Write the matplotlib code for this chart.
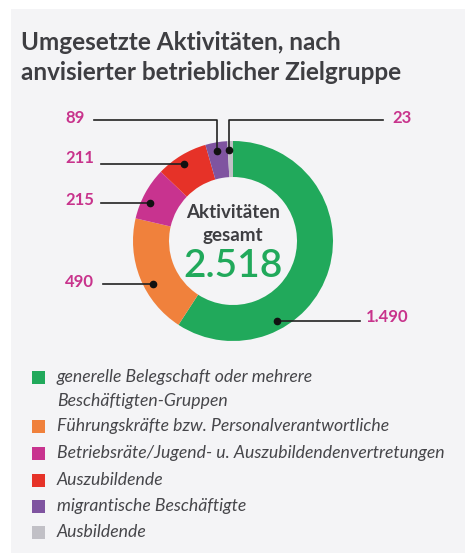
import numpy as np
import matplotlib.pyplot as plt
from matplotlib.patches import Rectangle

# data
groups = ['generelle Belegschaft oder mehrere\nBeschäftigten-Gruppen',
          'Führungskräfte bzw. Personalverantwortliche',
          'Betriebsräte/Jugend- u. Auszubildendenvertretungen',
          'Auszubildende',
          'migrantische Beschäftigte',
          'Ausbildende']
counts = [1490, 490, 215, 211, 89, 23]
value_labels = ['1.490', '490', '215', '211', '89', '23']
colors = ['#21a95b', '#f0813c', '#c8338f', '#e63228', '#7f54a0', '#c1c0c6']
total_label = '2.518'

W, H = 471, 553
FONT = 'Lato'
dark = '#3e3e42'
pink = '#c8338c'

fig = plt.figure(figsize=(W / 100, H / 100), dpi=100, facecolor='white')

def fx(x):
    return x / W

def fy(y):
    return 1 - y / H

# grey panel (behind the axes)
fig.patches.append(Rectangle((fx(11), 0), fx(465) - fx(11), fy(9), transform=fig.transFigure,
                             facecolor='#f4f4f6', edgecolor='none', zorder=-5))

fig.text(fx(21), fy(43), 'Umgesetzte Aktivitäten, nach', fontsize=17.5, fontweight='bold',
         color=dark, family=FONT, va='center', ha='left')
fig.text(fx(21), fy(72), 'anvisierter betrieblicher Zielgruppe', fontsize=17.5, fontweight='bold',
         color=dark, family=FONT, va='center', ha='left')

# donut: centre (233, 241) px, radius 100 px -> 1 data unit = 100 px
cx, cy, R = 233, 241, 100
ax = fig.add_axes([fx(cx - R), fy(cy + R), 2 * R / W, 2 * R / H])
ax.pie(counts, colors=colors, startangle=90, counterclock=False, radius=1,
       wedgeprops=dict(width=0.36, linewidth=0))
ax.set_xlim(-1, 1)
ax.set_ylim(-1, 1)
ax.axis('off')

def to_data(x, y):
    return (x - cx) / R, (cy - y) / R

# label layout: (fraction within wedge, label x px, label y px, line end x px, elbow y px or None)
layout = [
    (0.71, 366, 317, 360, None),
    (0.41, 65, 282, 103, None),
    (0.37, 65, 200, 101, None),
    (0.45, 65, 158, 101, None),
    (0.45, 65, 118, 94, 120),
    (0.25, 392, 118, 383, 120),
]

cum = np.concatenate([[0], np.cumsum(counts)]) / sum(counts) * 360
for i, (frac, lx, ly, ex, elbow) in enumerate(layout):
    a = cum[i] + frac * (cum[i + 1] - cum[i])
    th = np.deg2rad(90 - a)
    dx, dy = 0.91 * np.cos(th), 0.91 * np.sin(th)
    ex_d = (ex - cx) / R
    if elbow is None:
        ax.plot([dx, ex_d], [dy, dy], color='#222222', lw=1.2, clip_on=False)
    else:
        ey_d = (cy - elbow) / R
        ax.plot([dx, dx, ex_d], [dy, ey_d, ey_d], color='#222222', lw=1.2, clip_on=False)
    ax.plot(dx, dy, 'o', color='#111111', ms=4.5, clip_on=False)
    tx, ty = to_data(lx, ly)
    ax.text(tx, ty, value_labels[i], fontsize=12, fontweight='bold', color=pink,
            family=FONT, ha='left', va='center', clip_on=False)

# centre text
ax.text(0, (cy - 213) / R, 'Aktivitäten', fontsize=13.5, fontweight='bold', color=dark,
        family=FONT, ha='center', va='center')
ax.text(0, (cy - 236) / R, 'gesamt', fontsize=13.5, fontweight='bold', color=dark,
        family=FONT, ha='center', va='center')
ax.text(0, (cy - 266) / R, total_label, fontsize=28, fontweight='semibold', color=colors[0],
        family=FONT, ha='center', va='center')

# legend
row_y = [377, 426, 453, 480, 506, 532]
for lab, c, y in zip(groups, colors, row_y):
    fig.patches.append(Rectangle((fx(32), fy(y + 6.5)), 13 / W, 13 / H, transform=fig.transFigure,
                                 facecolor=c, edgecolor='none'))
    fig.text(fx(57), fy(y - 8), lab, fontsize=12.7, style='italic', color='#46464a', family=FONT,
             ha='left', va='top', linespacing=1.65)

fig.savefig('out.png', dpi=100, facecolor='white')
